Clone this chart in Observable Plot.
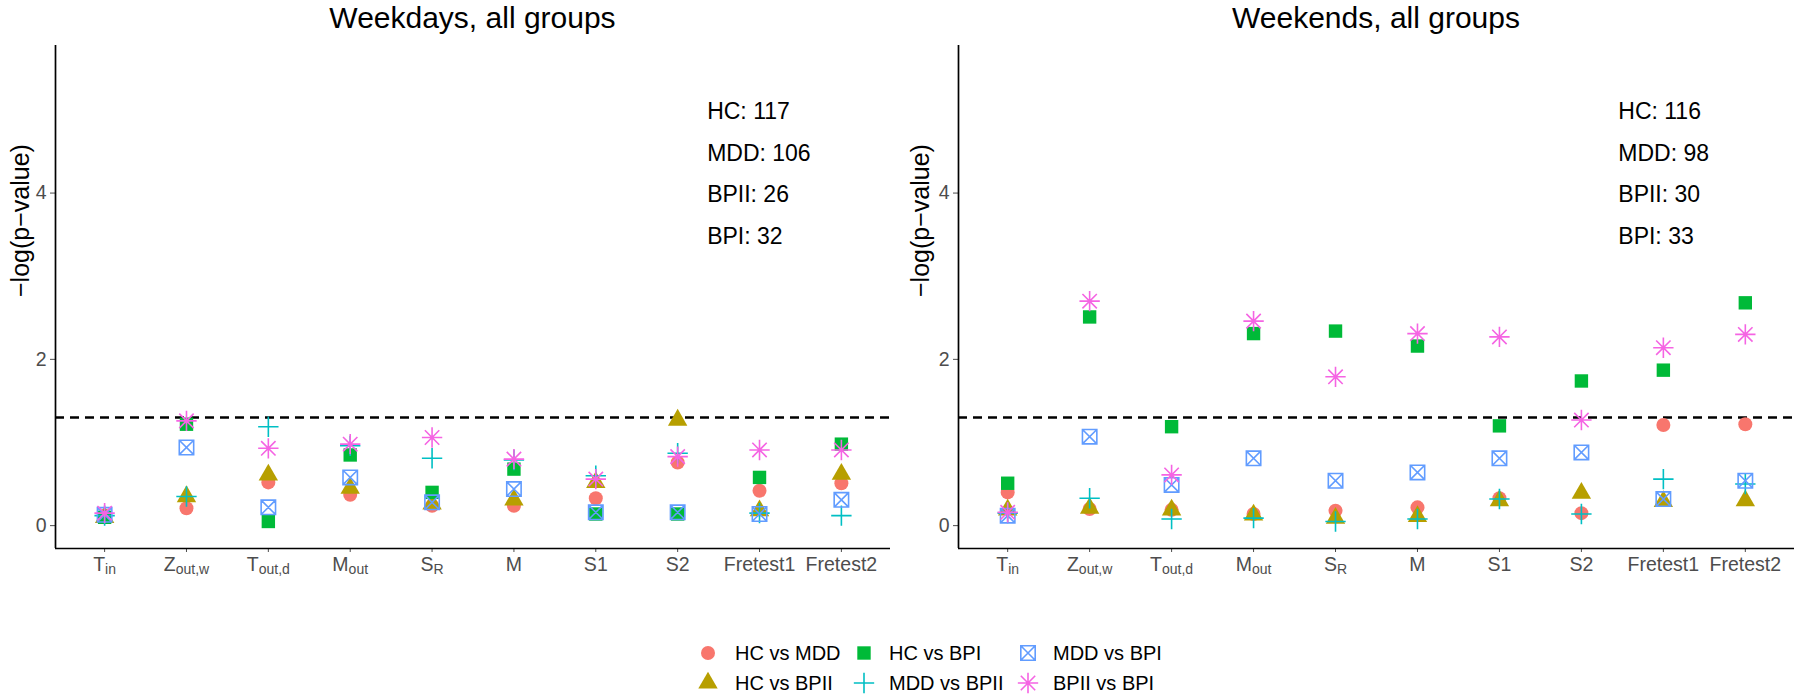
<!DOCTYPE html>
<html><head><meta charset="utf-8">
<script src="https://cdn.jsdelivr.net/npm/d3@7"></script>
<script src="https://cdn.jsdelivr.net/npm/@observablehq/plot@0.6"></script>
<style>
body{margin:0;background:#fff;font-family:"Liberation Sans",Arial,sans-serif;}
#root{position:relative;width:1800px;height:700px;overflow:hidden;}
.panel{position:absolute;top:0;}
.title{position:absolute;top:3px;font-size:30px;line-height:30px;text-align:center;color:#000;white-space:nowrap;}
</style></head><body><div id="root"></div>
<script>
// ---------- data ----------
const categories = ["T_in", "Z_out,w", "T_out,d", "M_out", "S_R", "M", "S1", "S2", "Fretest1", "Fretest2"];
const catMain = ["T", "Z", "T", "M", "S", "M", "S1", "S2", "Fretest1", "Fretest2"];
const catSub = ["in", "out,w", "out,d", "out", "R", "", "", "", "", ""];
const series = ["HC vs MDD", "HC vs BPII", "HC vs BPI", "MDD vs BPII", "MDD vs BPI", "BPII vs BPI"];
const colors = ["#F8766D", "#B79F00", "#00BA38", "#00BFC4", "#619CFF", "#F564E3"];
const panelTitles = ["Weekdays, all groups", "Weekends, all groups"];
const yLabel = "\u2212log(p\u2212value)";
const yTicks = [0, 2, 4];
const threshold = -Math.log10(0.05);

// weekdays: one array per series, in category order
const wdHCvsMDD   = [0.12, 0.21, 0.52, 0.37, 0.24, 0.24, 0.33, 0.76, 0.42, 0.51];
const wdHCvsBPII  = [0.10, 0.35, 0.61, 0.45, 0.26, 0.31, 0.52, 1.27, 0.18, 0.62];
const wdHCvsBPI   = [0.10, 1.22, 0.05, 0.85, 0.40, 0.68, 0.14, 0.14, 0.58, 0.98];
const wdMDDvsBPII = [0.12, 0.35, 1.19, 0.96, 0.81, 0.79, 0.60, 0.87, 0.15, 0.12];
const wdMDDvsBPI  = [0.13, 0.94, 0.22, 0.58, 0.28, 0.44, 0.16, 0.16, 0.14, 0.31];
const wdBPIIvsBPI = [0.15, 1.26, 0.93, 0.98, 1.06, 0.80, 0.56, 0.83, 0.91, 0.91];

// weekends
const weHCvsMDD   = [0.40, 0.20, 0.19, 0.14, 0.18, 0.22, 0.33, 0.15, 1.21, 1.22];
const weHCvsBPII  = [0.19, 0.21, 0.19, 0.13, 0.09, 0.11, 0.30, 0.39, 0.29, 0.30];
const weHCvsBPI   = [0.51, 2.51, 1.19, 2.31, 2.34, 2.16, 1.20, 1.74, 1.87, 2.68];
const weMDDvsBPII = [0.15, 0.33, 0.08, 0.09, 0.05, 0.08, 0.32, 0.14, 0.56, 0.50];
const weMDDvsBPI  = [0.12, 1.07, 0.49, 0.81, 0.54, 0.64, 0.81, 0.88, 0.32, 0.54];
const weBPIIvsBPI = [0.16, 2.70, 0.61, 2.46, 1.79, 2.31, 2.27, 1.27, 2.14, 2.30];

const countGroups = ["HC", "MDD", "BPII", "BPI"];
const weekdayCounts = [117, 106, 26, 32];
const weekendCounts = [116, 98, 30, 33];

// ---------- layout constants ----------
const XDOM = [-0.6, categories.length - 1 + 0.6];
const YDOM = [-0.275, 5.775];
const countY = [4.98, 4.48, 3.98, 3.48];
const FONT = "Liberation Sans, Arial, Helvetica, sans-serif";

// ggplot-like shapes
const XC = 7.2;
const symCircle = {draw(c){ c.moveTo(7, 0); c.arc(0, 0, 7, 0, 2 * Math.PI); c.closePath(); }};
const symTriangle = {draw(c){ const r = 1.5551 * XC, h = 1.3468 * XC, b = 0.7776 * XC; c.moveTo(0, -r); c.lineTo(h, b); c.lineTo(-h, b); c.closePath(); }};
const symSquare = {draw(c){ const s = 6.7; c.rect(-s, -s, 2 * s, 2 * s); }};
const symPlus = {draw(c){ const a = 1.4142 * XC; c.moveTo(-a, 0); c.lineTo(a, 0); c.moveTo(0, -a); c.lineTo(0, a); }};
const symSqCross = {draw(c){ const s = XC; c.rect(-s, -s, 2 * s, 2 * s); c.moveTo(-s, -s); c.lineTo(s, s); c.moveTo(-s, s); c.lineTo(s, -s); }};
const symAsterisk = {draw(c){ const s = XC, a = 1.4142 * XC; c.moveTo(-s, -s); c.lineTo(s, s); c.moveTo(-s, s); c.lineTo(s, -s); c.moveTo(-a, 0); c.lineTo(a, 0); c.moveTo(0, -a); c.lineTo(0, a); }};
const symbols = [symCircle, symTriangle, symSquare, symPlus, symSqCross, symAsterisk];
const filled = [true, true, true, false, false, false];

function makePanel(values, counts, opt) {
  const rows = [];
  series.forEach((s, si) => values[si].forEach((v, ci) => rows.push({series: s, si, ci, v})));
  const countText = countGroups.map((g, i) => `${g}: ${counts[i]}`);
  const marks = [
    Plot.ruleY([threshold], {stroke: "#000", strokeWidth: 2.4, strokeDasharray: "9,6"}),
    Plot.axisX({ticks: d3.range(categories.length), tickFormat: i => catMain[i], tickSize: 4, tickPadding: 5,
      fontSize: 19.5, color: "#4d4d4d", label: null}),
    Plot.axisY({ticks: yTicks, tickFormat: d3.format("d"), tickSize: 5, tickPadding: 4, fontSize: 19.5, color: "#4d4d4d", label: null}),
    Plot.ruleY([YDOM[0]], {stroke: "#000", strokeWidth: 1.7}),
    Plot.ruleX([XDOM[0]], {stroke: "#000", strokeWidth: 1.7}),
    Plot.text([yLabel], {frameAnchor: "left", text: d => d, rotate: -90, dx: opt.labelDx, fontSize: 25, fill: "#000"}),
    Plot.text(countText, {x: () => opt.annX, y: (d, i) => countY[i], text: d => d, textAnchor: "start", fontSize: 23, fill: "#000"}),
    ...series.map((s, si) => Plot.dot(rows.filter(r => r.si === si), {
      x: "ci", y: "v", symbol: symbols[si], r: 7,
      fill: filled[si] ? colors[si] : "none",
      stroke: filled[si] ? "none" : colors[si],
      strokeWidth: 1.6
    }))
  ];
  const svg = Plot.plot({
    width: 900, height: 600,
    marginLeft: opt.marginLeft, marginRight: opt.marginRight, marginTop: 45, marginBottom: 52,
    x: {type: "linear", domain: XDOM, label: null},
    y: {domain: YDOM, label: null},
    style: {fontFamily: FONT, background: "white", overflow: "visible"},
    marks
  });
  // add subscripts to x tick labels
  const labels = svg.querySelectorAll('g[aria-label="x-axis tick label"] text');
  labels.forEach((t, i) => {
    if (catSub[i]) {
      t.textContent = catMain[i];
      const ts = document.createElementNS("http://www.w3.org/2000/svg", "tspan");
      ts.setAttribute("font-size", "14");
      ts.setAttribute("dy", "3");
      ts.textContent = catSub[i];
      t.appendChild(ts);
    }
  });
  return svg;
}

const root = document.getElementById("root");
const panels = [
  {values: [wdHCvsMDD, wdHCvsBPII, wdHCvsBPI, wdMDDvsBPII, wdMDDvsBPI, wdBPIIvsBPI], counts: weekdayCounts,
   left: 0, marginLeft: 55, marginRight: 10, labelDx: -35, annX: 7.36},
  {values: [weHCvsMDD, weHCvsBPII, weHCvsBPI, weMDDvsBPII, weMDDvsBPI, weBPIIvsBPI], counts: weekendCounts,
   left: 900, marginLeft: 58, marginRight: 6, labelDx: -38, annX: 7.45}
];
panels.forEach((p, k) => {
  const div = document.createElement("div");
  div.className = "panel";
  div.style.left = p.left + "px";
  div.appendChild(makePanel(p.values, p.counts, p));
  root.appendChild(div);
  const t = document.createElement("div");
  t.className = "title";
  t.style.left = (p.left + p.marginLeft) + "px";
  t.style.width = (900 - p.marginLeft - p.marginRight) + "px";
  t.textContent = panelTitles[k];
  root.appendChild(t);
});

// legend (two rows, filled by column)
const legSymX = [708, 864, 1028], legTextX = [735, 889, 1053], legRowY = [33, 63];
const lg = d3.create("svg").attr("width", 1800).attr("height", 80)
  .style("position", "absolute").style("left", "0px").style("top", "620px")
  .style("font-family", FONT);
series.forEach((s, i) => {
  const col = Math.floor(i / 2), row = i % 2;
  const g = lg.append("g").attr("transform", `translate(${legSymX[col]},${legRowY[row]})`);
  g.append("path").attr("d", d3.symbol(symbols[i])())
    .attr("fill", filled[i] ? colors[i] : "none")
    .attr("stroke", filled[i] ? "none" : colors[i])
    .attr("stroke-width", 1.6);
  lg.append("text").attr("x", legTextX[col]).attr("y", legRowY[row]).attr("dy", "0.36em")
    .attr("font-size", 20).attr("fill", "#000").text(s);
});
root.appendChild(lg.node());
</script></body></html>
